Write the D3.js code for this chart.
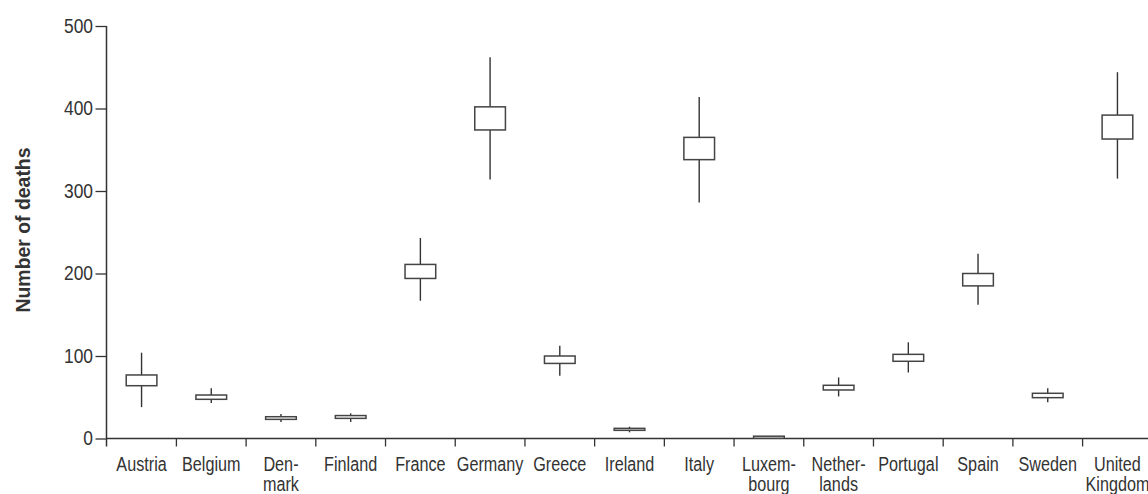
<!DOCTYPE html>
<html><head><meta charset="utf-8">
<script src="https://cdn.jsdelivr.net/npm/d3@7"></script>
<style>
html,body{margin:0;padding:0;background:#fff;}
svg text{font-family:"Liberation Sans",Arial,sans-serif;fill:#333;}
</style></head>
<body><svg id="c" width="1148" height="494"></svg>
<script>
const countries = [["Austria"],["Belgium"],["Den-","mark"],["Finland"],["France"],["Germany"],["Greece"],["Ireland"],["Italy"],["Luxem-","bourg"],["Nether-","lands"],["Portugal"],["Spain"],["Sweden"],["United","Kingdom"]];
const whiskerLow  = [38, 43, 20, 20, 167, 314, 76, 7.5, 286, 0, 51, 80, 162, 44, 315];
const boxLow      = [64, 47.5, 23.2, 24.4, 194, 374, 91, 9.9, 338, 0.3, 58.8, 93.6, 185, 49.5, 363];
const boxHigh     = [77, 52.7, 26.4, 27.8, 211, 402, 100, 12.3, 365, 2.8, 64.5, 102, 200, 54.8, 392];
const whiskerHigh = [104, 61, 29.7, 30.5, 243, 462, 112.5, 14.3, 414, 3, 74, 116.6, 224, 61, 444];
const yTicks = [0, 100, 200, 300, 400, 500];

const svg = d3.select("#c");
const x = d3.scaleBand().domain(d3.range(countries.length)).range([106.7, 1152.3]).paddingInner(0).paddingOuter(0);
const y = d3.scaleLinear().domain([0, 500]).range([438.5, 26]);
const bw = x.bandwidth() * 0.44;
const ink = "#333";
const sx = 0.81;

// y axis
const ya = svg.append("g").attr("transform", "translate(106.5,0)")
  .call(d3.axisLeft(y).tickValues(yTicks).tickSize(11).tickPadding(4));
ya.select(".domain").attr("stroke", ink).attr("stroke-width", 1.5).attr("d", `M0,${y(500)}V${y(0)+8}`);
ya.selectAll(".tick line").attr("stroke", ink).attr("stroke-width", 1.3);
ya.selectAll(".tick text").style("font-size", "20px").attr("fill", "#333")
  .attr("x", -13.5 / 0.87).attr("transform", "scale(0.87,1)");

// x axis line and ticks
svg.append("line").attr("x1", 106.5).attr("x2", 1148).attr("y1", y(0)).attr("y2", y(0))
  .attr("stroke", ink).attr("stroke-width", 1.5);
svg.append("g").selectAll("line").data(d3.range(1, countries.length)).join("line")
  .attr("x1", d => x(d)).attr("x2", d => x(d))
  .attr("y1", y(0)).attr("y2", y(0) + 8)
  .attr("stroke", ink).attr("stroke-width", 1.3);

// x labels
const lab = svg.append("g").selectAll("text").data(countries).join("text")
  .attr("text-anchor", "middle")
  .attr("transform", (d, i) => `translate(${x(i) + x.bandwidth() / 2},471) scale(${sx},1)`)
  .style("font-size", "20px");
lab.selectAll("tspan").data(d => d).join("tspan")
  .attr("x", 0)
  .attr("dy", (d, i) => i === 0 ? 0 : 20)
  .text(d => d);

// y title
svg.append("text")
  .attr("transform", `translate(30,230) rotate(-90)`)
  .attr("text-anchor", "middle")
  .attr("textLength", 165).attr("lengthAdjust", "spacingAndGlyphs")
  .style("font-size", "21px").style("font-weight", "bold")
  .attr("fill", "#2a2a2a")
  .text("Number of deaths");

// boxes
const g = svg.append("g");
const idx = d3.range(countries.length);
g.selectAll("line.wh").data(idx).join("line").attr("class", "wh")
  .attr("x1", i => x(i) + x.bandwidth() / 2).attr("x2", i => x(i) + x.bandwidth() / 2)
  .attr("y1", i => y(whiskerHigh[i])).attr("y2", i => y(whiskerLow[i]))
  .attr("stroke", ink).attr("stroke-width", 1.4);
g.selectAll("rect").data(idx).join("rect")
  .attr("x", i => x(i) + x.bandwidth() / 2 - bw / 2)
  .attr("width", bw)
  .attr("y", i => y(boxHigh[i]))
  .attr("height", i => Math.max(0, y(boxLow[i]) - y(boxHigh[i])))
  .attr("fill", "#fff").attr("stroke", "#444").attr("stroke-width", 1.5);
</script></body></html>
